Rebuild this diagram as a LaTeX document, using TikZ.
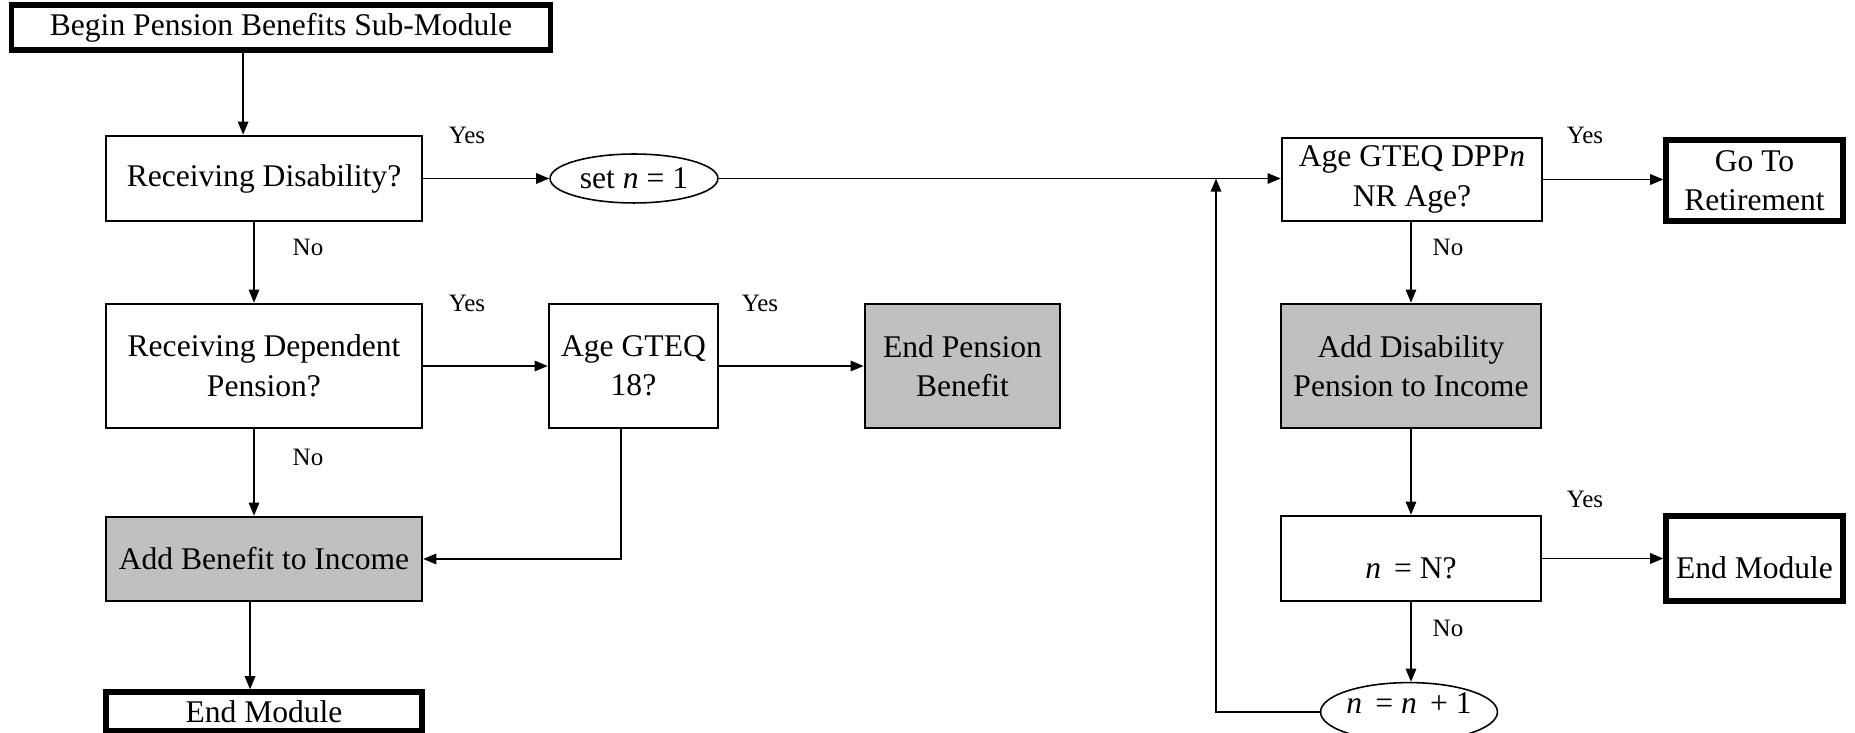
\documentclass[tikz,border=0pt]{standalone}
\usepackage{fontspec}
\setmainfont{Liberation Serif}
\usetikzlibrary{shapes.geometric, arrows.meta, positioning}
\definecolor{boxGray}{RGB}{192,192,192}

\begin{document}
\begin{tikzpicture}[x=0.38pt, y=-0.38pt,
    proc/.style={draw, line width=1pt, fill=white, inner sep=0pt, align=center, font=\fontsize{12}{15}\selectfont},
    term/.style={proc, line width=2pt},
    act/.style={proc, fill=boxGray},
    oval/.style={ellipse, draw, line width=0.6pt, inner sep=0pt, font=\fontsize{12}{15}\selectfont},
    lab/.style={font=\fontsize{9.5}{11}\selectfont, inner sep=0pt},
    arrow/.style={-{Triangle[length=5pt, width=4pt]}, line width=0.6pt}
]
\useasboundingbox (0,0) rectangle (1855,733);

\node[term, minimum width=204.8pt, minimum height=17.1pt] (begin) at (281,27.5) {Begin Pension Benefits Sub-Module};
\node[proc, minimum width=120pt, minimum height=32.3pt] (recdis) at (264,178.5) {Receiving Disability?};
\node[oval, minimum width=63.8pt, minimum height=18.6pt] (setn) at (634,178.5) {set \textit{n} = 1};
\node[proc, minimum width=98.8pt, minimum height=31.5pt] (agedpp) at (1412,179.5) {Age GTEQ DPP\textit{n}\\NR Age?};
\node[term, minimum width=67.3pt, minimum height=30.8pt] (retire) at (1754.5,180.5) {Go To\\Retirement};
\node[proc, minimum width=120pt, minimum height=47.1pt] (recdep) at (264,366) {Receiving Dependent\\Pension?};
\node[proc, minimum width=64.2pt, minimum height=47.1pt] (age18) at (633.5,366) {Age GTEQ\\18?};
\node[act, minimum width=74.1pt, minimum height=47.1pt] (endpen) at (962.5,366) {End Pension\\Benefit};
\node[act, minimum width=98.8pt, minimum height=47.1pt] (adddis) at (1411,366) {Add Disability\\Pension to Income};
\node[act, minimum width=120pt, minimum height=31.9pt] (addben) at (264,559) {Add Benefit to Income};
\node[term, minimum width=120pt, minimum height=14.8pt] (endmodL) at (264,711.5) {End Module};
\node[proc, minimum width=98.8pt, minimum height=32.3pt] (lastn) at (1411,558.5) {\mbox{}\\\textit{n}\, = N?};
\node[term, minimum width=67.3pt, minimum height=32.3pt] (endmodR) at (1754.5,558.5) {\mbox{}\\End Module};
\node[oval, minimum width=65.4pt, minimum height=20.5pt, text height=8.5pt, text depth=7.3pt] (nextn) at (1409,712) {\textit{n}\, = \textit{n}\, + 1};

% branch labels
\node[lab] (yesdis) at (467,135) {Yes};
\node[lab] (nodis) at (308,247) {No};
\node[lab] (yesdep) at (467,303) {Yes};
\node[lab] (yesage) at (760,303) {Yes};
\node[lab] (nodep) at (308,457) {No};
\node[lab] (yesnr) at (1585,135) {Yes};
\node[lab] (nonr) at (1448,247) {No};
\node[lab] (yeslast) at (1585,499) {Yes};
\node[lab] (nolast) at (1448,628) {No};

\coordinate (startarrow) at ([xshift=-14.4pt]begin.south);
\coordinate (disdrop) at ([xshift=-3.8pt]recdis.south);
\coordinate (depdrop) at ([xshift=-3.8pt]recdep.south);
\coordinate (bendrop) at ([xshift=-5.3pt]addben.south);
\coordinate (agedrop) at ([xshift=-4.75pt]age18.south);
\coordinate (loopjoin) at (1216,178.5);

\draw[arrow] (startarrow) -- (startarrow |- recdis.north);
\draw[arrow] (recdis) -- (setn);
\draw[arrow] (setn.east) -- (setn.east -| agedpp.west);
\draw[arrow] (agedpp.east) -- (agedpp.east -| retire.west);
\draw[arrow] (disdrop) -- (disdrop |- recdep.north);
\draw[arrow] (recdep) -- (age18);
\draw[arrow] (age18) -- (endpen);
\draw[arrow] (agedrop) |- (addben.east);
\draw[arrow] (depdrop) -- (depdrop |- addben.north);
\draw[arrow] (bendrop) -- (bendrop |- endmodL.north);
\draw[arrow] (adddis |- agedpp.south) -- (adddis);
\draw[arrow] (adddis) -- (lastn);
\draw[arrow] (lastn) -- (endmodR);
\draw[arrow] (lastn) -- (lastn |- nextn.north);
\draw[arrow] (nextn.west) -| (loopjoin);
\end{tikzpicture}
\end{document}
